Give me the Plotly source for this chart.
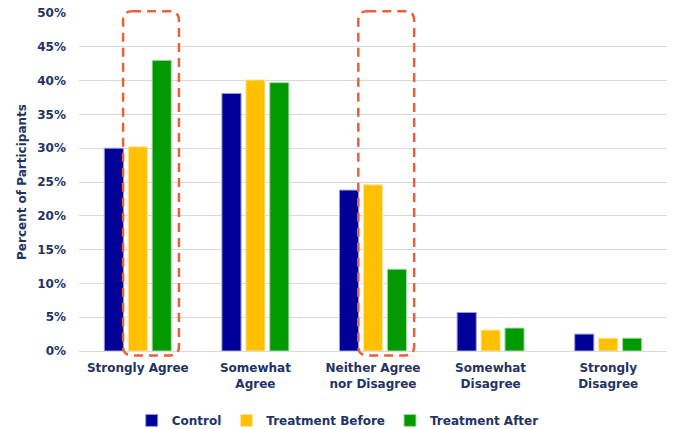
import plotly.graph_objects as go

categories = ["Strongly Agree", "Somewhat<br>Agree", "Neither Agree<br>nor Disagree",
              "Somewhat<br>Disagree", "Strongly<br>Disagree"]
control = [0.300, 0.381, 0.238, 0.057, 0.025]
treatment_before = [0.302, 0.401, 0.246, 0.031, 0.019]
treatment_after = [0.430, 0.397, 0.121, 0.034, 0.019]
y_ticks = [0, 0.05, 0.10, 0.15, 0.20, 0.25, 0.30, 0.35, 0.40, 0.45, 0.50]

highlighted = [0, 2]  # categories whose treatment bars are outlined

TEXT = "#1F3366"
FONT = "DejaVu Sans"
Y_MAX = 0.5

fig = go.Figure()
for name, vals, color, edge in [
    ("Control", control, "#000099", "#9a9ad8"),
    ("Treatment Before", treatment_before, "#FFC000", "#ffe7a0"),
    ("Treatment After", treatment_after, "#009900", "#a6dca6"),
]:
    fig.add_trace(go.Bar(x=categories, y=vals, name=name,
                         marker=dict(color=color, line=dict(color=edge, width=1))))


def rounded_box(idx, left, right, bottom, top, r_px=9):
    """Dashed rounded rectangle around part of a category group, in axis-domain units."""
    n = len(categories)
    x0 = (idx + 0.5 + left) / n
    x1 = (idx + 0.5 + right) / n
    y0 = bottom / Y_MAX
    y1 = top / Y_MAX
    rx = r_px / 588.0
    ry = r_px / 338.0
    d = (f"M{x0+rx},{y1} L{x1-rx},{y1} Q{x1},{y1} {x1},{y1-ry} "
         f"L{x1},{y0+ry} Q{x1},{y0} {x1-rx},{y0} L{x0+rx},{y0} "
         f"Q{x0},{y0} {x0},{y0+ry} L{x0},{y1-ry} Q{x0},{y1} {x0+rx},{y1} Z")
    return dict(type="path", path=d, xref="x domain", yref="y domain",
                line=dict(color="#E8603C", width=2.5, dash="9px,6px"),
                fillcolor="rgba(0,0,0,0)", layer="above")


shapes = [rounded_box(i, -0.125, 0.35, -0.0065, 0.5025) for i in highlighted]

fig.update_layout(
    width=675, height=429,
    margin=dict(l=79, r=8, t=13, b=78, autoexpand=False),
    paper_bgcolor="white", plot_bgcolor="white",
    barmode="group", bargap=0.39, bargroupgap=0.2,
    font=dict(family=FONT, size=12, color=TEXT),
    showlegend=True,
    legend=dict(orientation="h", x=0.44, xanchor="center",
                yref="container", y=0.02, yanchor="middle",
                font=dict(family=FONT, size=12, color=TEXT, weight="bold"),
                itemwidth=30, traceorder="normal"),
    shapes=shapes,
)
fig.update_xaxes(showgrid=False, showline=False, zeroline=False, ticks="",
                 ticklabelstandoff=8,
                 tickfont=dict(family=FONT, size=12, color=TEXT, weight="bold"))
fig.update_yaxes(range=[0, Y_MAX], tickvals=y_ticks, tickformat=".0%",
                 showgrid=True, gridcolor="#D9D9D9", gridwidth=1,
                 zeroline=True, zerolinecolor="#D9D9D9", zerolinewidth=1,
                 showline=False, ticks="", ticklabelstandoff=12,
                 tickfont=dict(family=FONT, size=12, color=TEXT, weight="bold"),
                 title=dict(text="Percent of Participants", standoff=8,
                            font=dict(family=FONT, size=12, color=TEXT, weight="bold")))

fig.write_html("out.html")
